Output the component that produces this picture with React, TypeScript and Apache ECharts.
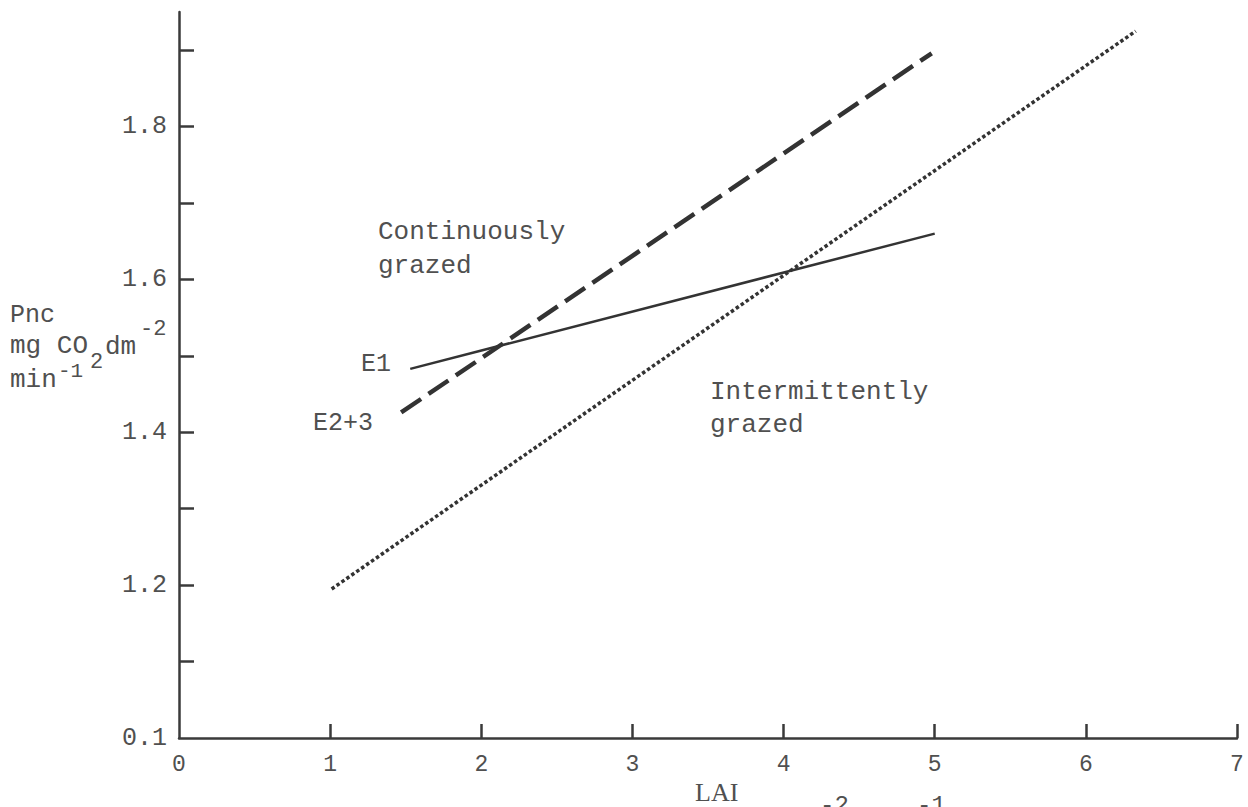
import React, { useEffect, useRef } from "react";
import * as echarts from "echarts";

// ---- data ----
const xLabelValues = [0, 1, 2, 3, 4, 5, 6, 7];
const xTickValues = [1, 2, 3, 4, 5, 6, 7];
const yLabelValues = [1.0, 1.2, 1.4, 1.6, 1.8];
const yLabelTexts = ["0.1", "1.2", "1.4", "1.6", "1.8"];
const yTickValues = [1.1, 1.2, 1.3, 1.4, 1.5, 1.6, 1.7, 1.8, 1.9];

const e1Line = [
  [1.53, 1.483],
  [5.0, 1.66],
];
const e23Line = [
  [1.47, 1.426],
  [4.98, 1.896],
];
const intermittentLine = [
  [1.01, 1.195],
  [6.33, 1.925],
];

const TEXT = "#505050";
const LINE = "#333333";
const MONO = "Liberation Mono, DejaVu Sans Mono, monospace";
const SERIF = "Liberation Serif, DejaVu Serif, serif";

export default function App() {
  const ref = useRef<HTMLDivElement>(null);

  useEffect(() => {
    document.body.style.margin = "0";
    const chart = echarts.init(ref.current!, null, { renderer: "svg" });
    const t = (
      text: string,
      x: number,
      y: number,
      size = 25,
      family = MONO,
      vAlign = "middle"
    ) => ({
      type: "text",
      x,
      y,
      style: {
        text,
        fill: TEXT,
        fontSize: size,
        fontFamily: family,
        verticalAlign: vAlign,
        align: "left",
      },
    });
    chart.setOption({
      animation: false,
      backgroundColor: "#ffffff",
      grid: { left: 179, right: 11, top: 12, bottom: 69, containLabel: false },
      xAxis: {
        type: "value",
        min: 0,
        max: 7,
        interval: 1,
        splitLine: { show: false },
        axisLine: { show: true, lineStyle: { color: "#3a3a3a", width: 2.5 } },
        axisTick: {
          show: true,
          inside: true,
          length: 14,
          customValues: xTickValues,
          lineStyle: { color: "#3a3a3a", width: 2.5 },
        },
        axisLabel: {
          customValues: xLabelValues,
          margin: 15,
          color: TEXT,
          fontSize: 23,
          fontFamily: MONO,
          formatter: (v: number) => String(v),
        },
      },
      yAxis: {
        type: "value",
        min: 1.0,
        max: 1.95,
        interval: 0.1,
        splitLine: { show: false },
        axisLine: { show: true, lineStyle: { color: "#3a3a3a", width: 2.5 } },
        axisTick: {
          show: true,
          inside: true,
          length: 15,
          customValues: yTickValues,
          lineStyle: { color: "#3a3a3a", width: 2.5 },
        },
        axisLabel: {
          customValues: yLabelValues,
          margin: 12,
          color: TEXT,
          fontSize: 25,
          fontFamily: MONO,
          formatter: (v: number) => {
            const i = yLabelValues.findIndex((x) => Math.abs(x - v) < 1e-6);
            return i >= 0 ? yLabelTexts[i] : "";
          },
        },
      },
      series: [
        {
          name: "E1",
          type: "line",
          data: e1Line,
          symbol: "none",
          lineStyle: { color: LINE, width: 2.5, type: "solid" },
        },
        {
          name: "E2+3",
          type: "line",
          data: e23Line,
          symbol: "none",
          lineStyle: { color: LINE, width: 4.5, type: [24, 9], cap: "butt" },
        },
        {
          name: "Intermittently grazed",
          type: "line",
          data: intermittentLine,
          symbol: "none",
          lineStyle: { color: LINE, width: 3.5, type: [3.5, 2.5], cap: "butt" },
        },
      ],
      graphic: [
        t("Continuously", 378, 232, 26),
        t("grazed", 378, 266, 26),
        t("Intermittently", 710, 392, 26),
        t("grazed", 710, 425, 26),
        t("E1", 361, 364, 25),
        t("E2+3", 313, 423, 25),
        // y-axis title
        t("Pnc", 10, 315, 25),
        t("mg CO", 10, 346, 26),
        t("2", 90, 362, 22),
        t("dm", 105, 347, 26),
        t("-2", 140, 329, 22),
        t("min", 10, 380, 26),
        t("-1", 58, 371, 21),
        // x-axis title
        t("LAI", 695, 792, 26, SERIF),
        t("-2", 820, 793, 24, MONO, "top"),
        t("-1", 917, 793, 24, MONO, "top"),
      ],
    });
    return () => chart.dispose();
  }, []);

  return <div ref={ref} style={{ width: 1248, height: 807 }} />;
}
